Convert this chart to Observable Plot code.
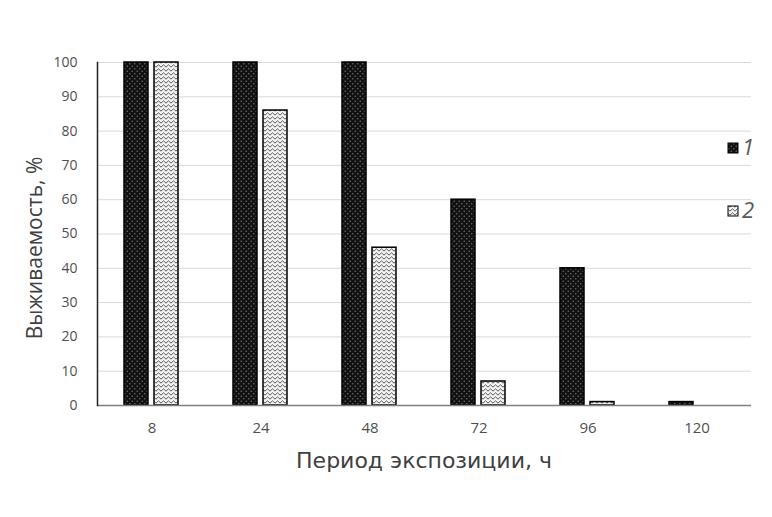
<!DOCTYPE html>
<html><head><meta charset="utf-8">
<script src="https://cdn.jsdelivr.net/npm/d3@7"></script>
<script src="https://cdn.jsdelivr.net/npm/@observablehq/plot@0.6"></script>
<style>body{margin:0;background:#fff;} svg{font-family:"Open Sans",sans-serif;}</style>
</head><body><div id="chart"></div>
<script>
const periods = ["8","24","48","72","96","120"];
const series = ["1","2"];
const values1 = [100,100,100,60,40,1];
const values2 = [100,86,46,7,1,0];
const yTicks = [0,10,20,30,40,50,60,70,80,90,100];
const xLabel = "Период экспозиции, ч";
const yLabel = "Выживаемость, %";

const data = [];
periods.forEach((p,i)=>{
  data.push({period:p, series:"1", value:values1[i]});
  data.push({period:p, series:"2", value:values2[i]});
});
const barData = data.filter(d=>d.value>0);

const plot = Plot.plot({
  width:772, height:517,
  marginLeft:96, marginRight:20, marginTop:62, marginBottom:112,
  style:{fontFamily:"'Open Sans',sans-serif", background:"#fff"},
  fx:{domain:periods, padding:0, label:null},
  x:{domain:series, axis:null, paddingInner:0.19, paddingOuter:0.86},
  y:{domain:[0,100], axis:null},
  color:{domain:series, range:["url(#pat1)","url(#pat2)"]},
  marks:[
    Plot.ruleY(yTicks.filter(t=>t>0), {stroke:"#d9d9d9", strokeWidth:1}),
    Plot.barY(barData, {fx:"period", x:"series", y:"value", fill:"series", stroke:"#000", strokeWidth:1.5}),
    Plot.ruleY([0], {stroke:"#7f7f7f", strokeWidth:1.5}),
    Plot.axisY({ticks:yTicks, tickSize:0, tickPadding:20, fontSize:14, fill:"#505050", label:null, facetAnchor:"left"}),
    Plot.frame({anchor:"left", stroke:"#222", strokeWidth:1.5, facetAnchor:"left"}),
    Plot.axisFx({anchor:"bottom", tickSize:0, tickPadding:17, fontSize:15, fill:"#505050", label:null})
  ]
});

const svg = d3.select(plot);
const defs = svg.insert("defs", ":first-child");
const p1 = defs.append("pattern").attr("id","pat1").attr("patternUnits","userSpaceOnUse").attr("width",5).attr("height",5);
p1.append("rect").attr("width",5).attr("height",5).attr("fill","#111");
p1.append("circle").attr("cx",1.25).attr("cy",1.25).attr("r",0.8).attr("fill","#6a6a6a");
p1.append("circle").attr("cx",3.75).attr("cy",3.75).attr("r",0.8).attr("fill","#6a6a6a");
const p2 = defs.append("pattern").attr("id","pat2").attr("patternUnits","userSpaceOnUse").attr("width",5).attr("height",4);
p2.append("rect").attr("width",5).attr("height",4).attr("fill","#f4f4f4");
p2.append("path").attr("d","M0,3.2 L2.5,0.8 L5,3.2").attr("stroke","#555").attr("stroke-width",1).attr("fill","none");

// axis titles
svg.append("text").attr("x",424).attr("y",468).attr("text-anchor","middle")
  .attr("font-family","'DejaVu Sans',sans-serif")
  .attr("font-size",22).attr("fill","#404040").text(xLabel);
svg.append("text").attr("transform","translate(42,248) rotate(-90)").attr("text-anchor","middle")
  .attr("font-size",21).attr("fill","#404040").text(yLabel);

// legend
const leg = svg.append("g");
series.forEach((s,i)=>{
  const y = 143 + i*63;
  leg.append("rect").attr("x",727).attr("y",y-1).attr("width",16).attr("height",14).attr("fill","#fff");
  leg.append("rect").attr("x",728).attr("y",y).attr("width",10).attr("height",10)
    .attr("fill",`url(#pat${s})`).attr("stroke","#000").attr("stroke-width",1);
  leg.append("text").attr("x",748).attr("y",y+12).attr("font-size",22).attr("font-style","italic")
    .attr("fill","#595959").text(s);
});

document.getElementById("chart").appendChild(plot);
</script></body></html>
